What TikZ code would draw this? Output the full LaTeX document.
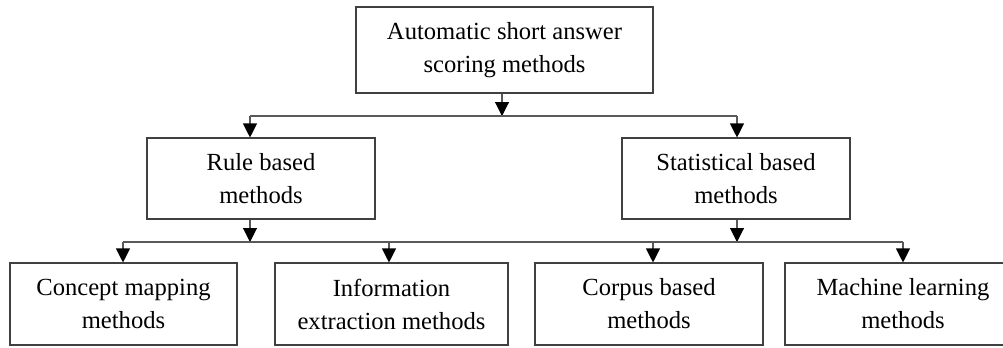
\documentclass[tikz,border=0pt]{standalone}
\usepackage{fontspec}
\setmainfont{Liberation Serif}
\usetikzlibrary{arrows.meta}
\begin{document}
\begin{tikzpicture}[x=0.5pt,y=-0.5pt,
  box/.style={draw=black!75,line width=0.55pt,rectangle,inner sep=0pt,align=center,
    font=\fontsize{12.3}{16.5}\selectfont},
  conn/.style={draw=black!65,line width=0.55pt},
  arr/.style={conn,-{Triangle[width=7pt,length=7pt,black]}}]
\useasboundingbox (0,0) rectangle (1003,348);
\clip (0,0) rectangle (1003,348);
\node[box,minimum width=148.5pt,minimum height=43pt] (top) at (504.5,50) {Automatic short answer\\scoring methods};
\node[box,minimum width=114pt,minimum height=40.5pt] (rule) at (261,178.5) {Rule based\\methods};
\node[box,minimum width=114pt,minimum height=40.5pt] (stat) at (736,178.5) {Statistical based\\methods};
\node[box,minimum width=113.5pt,minimum height=41pt] (c1) at (123.5,304) {Concept mapping\\methods};
\node[box,minimum width=116.5pt,minimum height=41pt] (c2) at (391.5,304) {Information\\extraction methods};
\node[box,minimum width=114pt,minimum height=41pt] (c3) at (649,304) {Corpus based\\methods};
\node[box,minimum width=118pt,minimum height=41pt] (c4) at (903,304) {Machine learning\\methods};
\coordinate (j0) at (502,116);
\coordinate (ja) at (250,116);
\coordinate (jb) at (737,116);
\coordinate (k1) at (250,242);
\coordinate (k2) at (737,242);
\coordinate (b1) at (123,242);
\coordinate (b2) at (389,242);
\coordinate (b3) at (653,242);
\coordinate (b4) at (903,242);
\draw[arr] (top.south -| j0) -- (j0);
\draw[conn] (ja) -- (jb);
\draw[arr] (ja) -- (ja |- rule.north);
\draw[arr] (jb) -- (jb |- stat.north);
\draw[arr] (rule.south -| k1) -- (k1);
\draw[arr] (stat.south -| k2) -- (k2);
\draw[conn] (b1) -- (b4);
\draw[arr] (b1) -- (b1 |- c1.north);
\draw[arr] (b2) -- (b2 |- c2.north);
\draw[arr] (b3) -- (b3 |- c3.north);
\draw[arr] (b4) -- (b4 |- c4.north);
\end{tikzpicture}
\end{document}
